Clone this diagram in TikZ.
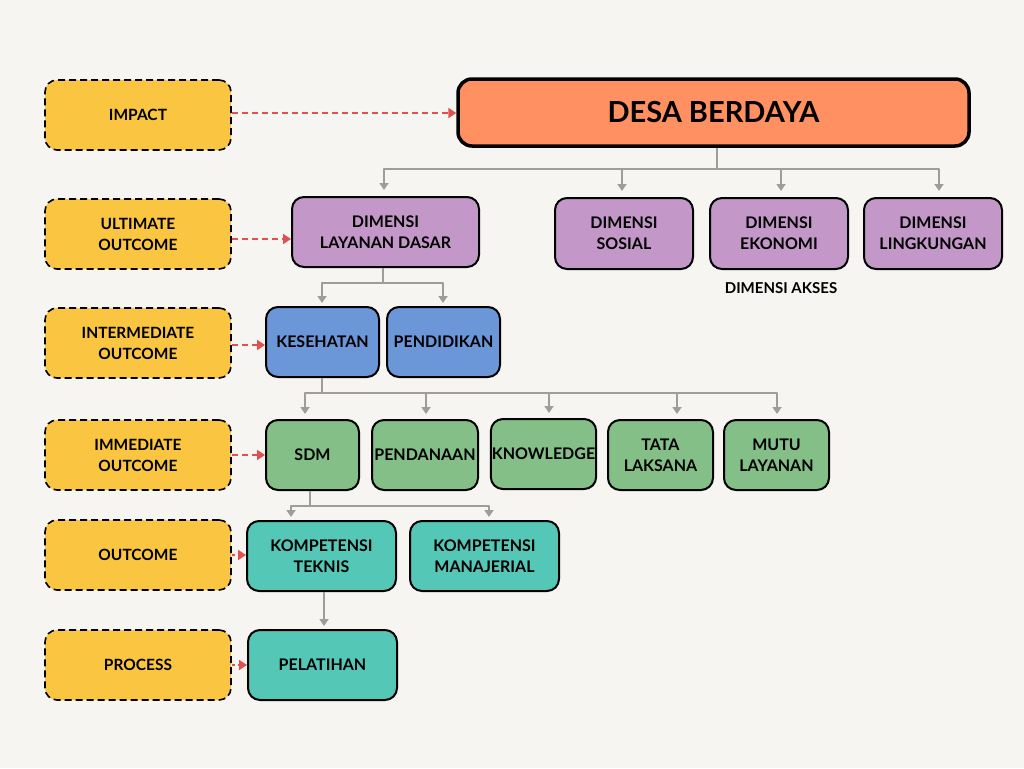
\documentclass[tikz,border=0pt]{standalone}
\usepackage{fontspec}
\setmainfont{Lato}
\usepackage{xcolor}
\usepackage{tikz}
\usetikzlibrary{arrows.meta,calc,positioning}

\definecolor{paperbg}{HTML}{F6F5F2}
\definecolor{levelyellow}{HTML}{FAC641}
\definecolor{goalorange}{HTML}{FF9061}
\definecolor{dimpurple}{HTML}{C397C8}
\definecolor{outblue}{HTML}{6B97D9}
\definecolor{factgreen}{HTML}{83BF86}
\definecolor{skillteal}{HTML}{54C7B7}
\definecolor{linkred}{HTML}{E0504F}
\definecolor{treegray}{HTML}{9D9D9D}

\tikzset{
  levelbox/.style={draw=black, fill=levelyellow, line width=1.6pt,
    dash pattern=on 7pt off 4pt, rounded corners=12pt,
    minimum width=186pt, minimum height=70pt, align=center,
    font=\fontsize{15.5}{21}\selectfont\bfseries},
  itembox/.style={draw=black, line width=2pt, rounded corners=12pt,
    minimum height=70pt, align=center, inner sep=1pt,
    font=\fontsize{16}{21}\selectfont\bfseries},
  tree/.style={treegray, line width=2pt},
  treearrow/.style={tree, -{Triangle[length=7pt,width=9pt]}},
  linkdash/.style={linkred, line width=2pt, dash pattern=on 6pt off 4pt,
    -{Triangle[length=8pt,width=10pt]}},
  linkdot/.style={linkred, line width=2pt, dash pattern=on 3pt off 3pt,
    -{Triangle[length=8pt,width=10pt]}}
}

\begin{document}
\begin{tikzpicture}[x=1pt,y=-1pt,line join=round]
  \fill[paperbg] (0,0) rectangle (1024,768);
  \useasboundingbox (0,0) rectangle (1024,768);

  % level labels
  \node[levelbox] (impact) at (138,115) {IMPACT};
  \node[levelbox] (ultimate) at (138,234) {ULTIMATE\\OUTCOME};
  \node[levelbox] (intermediate) at (138,343) {INTERMEDIATE\\OUTCOME};
  \node[levelbox] (immediate) at (138,455) {IMMEDIATE\\OUTCOME};
  \node[levelbox] (outcome) at (138,555) {OUTCOME};
  \node[levelbox] (process) at (138,665) {PROCESS};

  % goal
  \node[itembox, fill=goalorange, line width=3.5pt, rounded corners=14pt,
    minimum width=511pt, minimum height=67pt,
    font=\fontsize{29}{34}\selectfont\bfseries] (desa) at (713.5,112.5) {DESA BERDAYA};

  % dimensions
  \node[itembox, fill=dimpurple, minimum width=187pt] (layanan) at (385.5,232) {DIMENSI\\LAYANAN DASAR};
  \node[itembox, fill=dimpurple, minimum width=138pt, minimum height=71pt] (sosial) at (624,233.5) {DIMENSI\\SOSIAL};
  \node[itembox, fill=dimpurple, minimum width=138pt, minimum height=71pt] (ekonomi) at (779,233.5) {DIMENSI\\EKONOMI};
  \node[itembox, fill=dimpurple, minimum width=138pt, minimum height=71pt] (lingkungan) at (933,233.5) {DIMENSI\\LINGKUNGAN};
  \node[font=\fontsize{15}{18}\selectfont\bfseries] (akses) at (781,288) {DIMENSI AKSES};

  % services
  \node[itembox, fill=outblue, minimum width=113pt] (kesehatan) at (322.5,342) {KESEHATAN};
  \node[itembox, fill=outblue, minimum width=113pt] (pendidikan) at (443.5,342) {PENDIDIKAN};

  % factors
  \node[itembox, fill=factgreen, minimum width=93pt] (sdm) at (312.5,455) {SDM};
  \node[itembox, fill=factgreen, minimum width=106pt] (pendanaan) at (425,455) {PENDANAAN};
  \node[itembox, fill=factgreen, minimum width=105pt] (knowledge) at (543.5,454) {KNOWLEDGE};
  \node[itembox, fill=factgreen, minimum width=105pt] (tata) at (660.5,455) {TATA\\LAKSANA};
  \node[itembox, fill=factgreen, minimum width=105pt] (mutu) at (776.5,455) {MUTU\\LAYANAN};

  % competences
  \node[itembox, fill=skillteal, minimum width=149pt] (teknis) at (321.5,556) {KOMPETENSI\\TEKNIS};
  \node[itembox, fill=skillteal, minimum width=149pt] (manajerial) at (484.5,556) {KOMPETENSI\\MANAJERIAL};
  \node[itembox, fill=skillteal, minimum width=149pt] (pelatihan) at (322.5,665) {PELATIHAN};

  % tree connectors
  \draw[tree] ([xshift=3.5pt]desa.south) -- ++(0,21) coordinate (busdesa);
  \foreach \n/\dx in {layanan/-1.5, sosial/-2, ekonomi/2, lingkungan/6}
    \draw[treearrow, shorten >=6pt] (busdesa) -| ([xshift=\dx pt]\n.north);

  \draw[tree] ([xshift=-2.5pt]layanan.south) -- ++(0,15) coordinate (buslayanan);
  \foreach \n in {kesehatan, pendidikan}
    \draw[treearrow, shorten >=3pt] (buslayanan) -| ([xshift=-0.5pt]\n.north);

  \draw[tree] ([xshift=-0.5pt]kesehatan.south) -- ++(0,15) coordinate (buskes);
  \foreach \n/\dx in {sdm/-7.5, pendanaan/1, knowledge/5.5, tata/16.5, mutu/0.5}
    \draw[treearrow, shorten >=5pt] (buskes) -| ([xshift=\dx pt]\n.north);

  \draw[tree] ([xshift=-2.5pt]sdm.south) -- ++(0,15) coordinate (bussdm);
  \foreach \n/\dx in {teknis/-30.5, manajerial/4.5}
    \draw[treearrow, shorten >=3pt] (bussdm) -| ([xshift=\dx pt]\n.north);

  \draw[treearrow, shorten >=3pt] ([xshift=2.5pt]teknis.south) -- ([xshift=1.5pt]pelatihan.north);

  % level links
  \draw[linkdash] ([yshift=2pt]impact.east) -- ([yshift=2pt]impact.east -| desa.west);
  \draw[linkdash] ([yshift=-5pt]ultimate.east) -- ([yshift=-5pt]ultimate.east -| layanan.west);
  \draw[linkdash] ([yshift=-2pt]intermediate.east) -- ([yshift=-2pt]intermediate.east -| kesehatan.west);
  \draw[linkdash] (immediate.east) -- (immediate.east -| sdm.west);
  \draw[linkdot] (outcome.east) -- (outcome.east -| teknis.west);
  \draw[linkdot] (process.east) -- (process.east -| pelatihan.west);
\end{tikzpicture}
\end{document}
